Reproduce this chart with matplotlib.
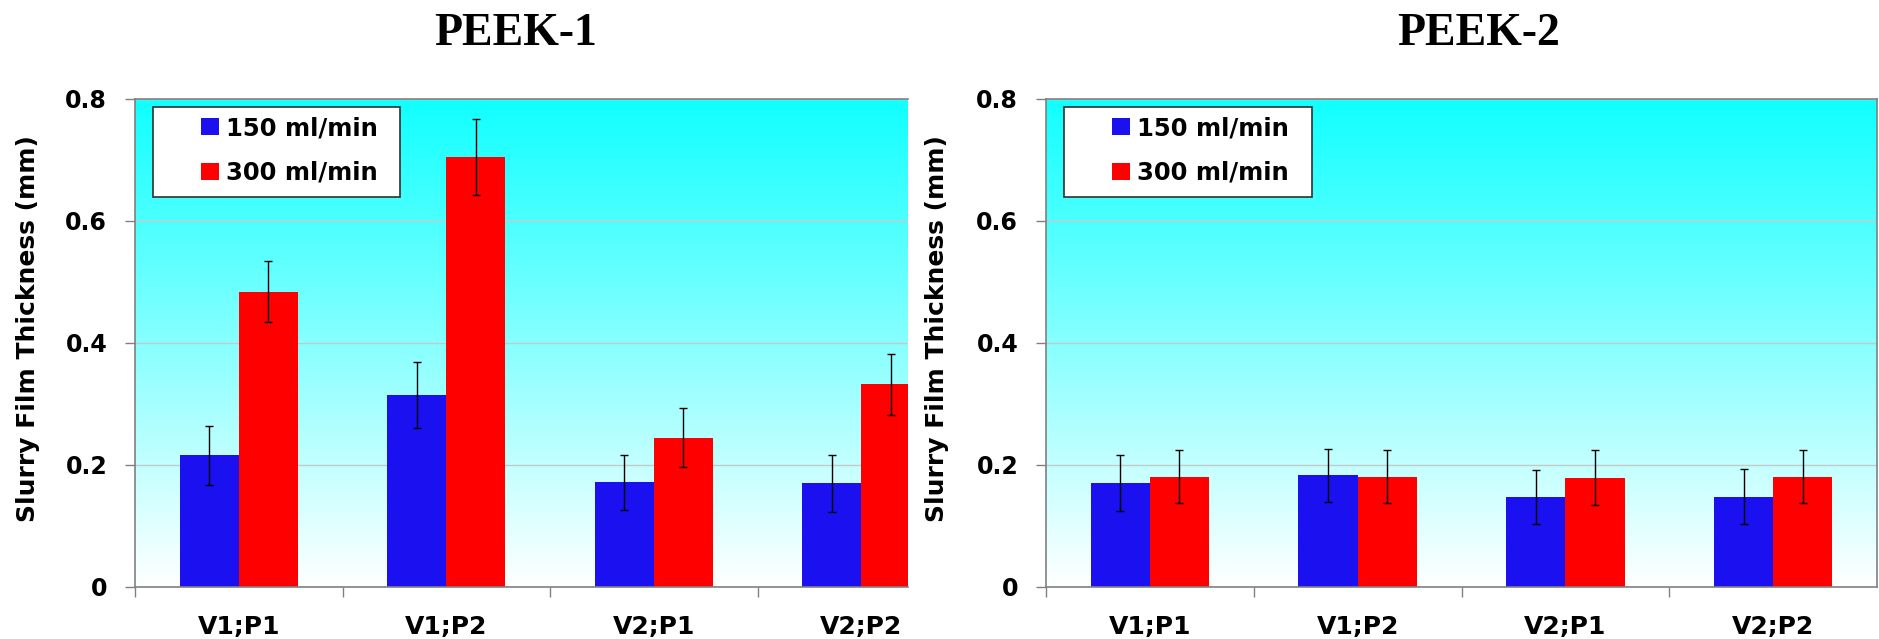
import numpy as np
import matplotlib
matplotlib.use("Agg")
import matplotlib.pyplot as plt
from matplotlib.patches import Patch, Rectangle
from matplotlib.colors import LinearSegmentedColormap

categories = ['V1;P1', 'V1;P2', 'V2;P1', 'V2;P2']
series_labels = ['150 ml/min', '300 ml/min']

peek1_150 = [0.216, 0.315, 0.172, 0.170]
peek1_150_err = [0.048, 0.054, 0.045, 0.047]
peek1_300 = [0.484, 0.705, 0.245, 0.332]
peek1_300_err = [0.050, 0.062, 0.048, 0.050]

peek2_150 = [0.170, 0.183, 0.148, 0.148]
peek2_150_err = [0.046, 0.043, 0.044, 0.045]
peek2_300 = [0.181, 0.181, 0.179, 0.181]
peek2_300_err = [0.043, 0.043, 0.045, 0.044]

y_ticks = [0, 0.2, 0.4, 0.6, 0.8]
y_tick_labels = ['0', '0.2', '0.4', '0.6', '0.8']

W, H = 1879, 639
BLUE = '#1a10f0'
RED = '#ff0000'
GRAY = '#808080'


def px_rect(x0, y0, x1, y1):
    # pixel box (top-left origin) -> figure fraction [l, b, w, h]
    return [x0 / W, 1 - y1 / H, (x1 - x0) / W, (y1 - y0) / H]


fig = plt.figure(figsize=(W / 100, H / 100), dpi=100)
fig.patch.set_facecolor('white')

bg_cmap = LinearSegmentedColormap.from_list('bg', ['#ffffff', '#10ffff'])
gradient = np.linspace(0, 1, 256).reshape(-1, 1)


def draw_panel(rect, xmax, vals150, err150, vals300, err300, title, title_x,
               ylabel_x, legend_box, show_right):
    ax = fig.add_axes(px_rect(*rect))
    ax.imshow(gradient, extent=[0, 1, 0, 1], transform=ax.transAxes,
              cmap=bg_cmap, aspect='auto', origin='lower', zorder=0)

    x = np.arange(len(categories))
    w = 0.285
    ekw = dict(elinewidth=1, capthick=1, ecolor='black')
    ax.bar(x - w / 2, vals150, w, color=BLUE, yerr=err150, capsize=3,
           error_kw=ekw, zorder=2)
    ax.bar(x + w / 2, vals300, w, color=RED, yerr=err300, capsize=3,
           error_kw=ekw, zorder=2)

    ax.set_xlim(-0.5, xmax)
    ax.set_ylim(0, 0.8)

    ax.set_yticks(y_ticks)
    ax.set_yticklabels(y_tick_labels, fontsize=17, fontweight='bold')
    ax.set_xticks(x)
    ax.set_xticklabels(categories, fontsize=18, fontweight='bold')
    ax.set_xticks(np.arange(len(categories)) - 0.5, minor=True)
    ax.tick_params(axis='x', which='major', length=0, pad=20)
    ax.tick_params(axis='x', which='minor', direction='out', length=7,
                   width=1, color=GRAY)
    ax.tick_params(axis='y', direction='out', length=7, width=1,
                   color=GRAY, pad=13)

    ax.set_axisbelow(True)
    ax.yaxis.grid(True, color='#c8c8c8', linewidth=1)

    for side in ['left', 'bottom', 'top']:
        ax.spines[side].set_color(GRAY)
        ax.spines[side].set_linewidth(1.2)
    ax.spines['right'].set_visible(show_right)
    ax.spines['right'].set_color(GRAY)
    ax.spines['right'].set_linewidth(1.2)

    ax.set_ylabel('Slurry Film Thickness (mm)', fontsize=18,
                  fontweight='bold', va='center')
    ax.yaxis.set_label_coords(ylabel_x, 0.53)

    # legend frame + entries
    bx0, by0, bx1, by1 = legend_box
    ax.add_patch(Rectangle((bx0 / W, 1 - by1 / H), (bx1 - bx0) / W,
                           (by1 - by0) / H, transform=fig.transFigure,
                           facecolor='white', edgecolor='#303030',
                           linewidth=1.2, zorder=4))
    handles = [Patch(facecolor=BLUE), Patch(facecolor=RED)]
    leg = ax.legend(handles, series_labels, loc='upper left',
                    bbox_to_anchor=((bx0 + 36) / W, 1 - (by0 - 3) / H),
                    bbox_transform=fig.transFigure, frameon=False,
                    borderpad=0, handlelength=0.72, handleheight=0.72,
                    handletextpad=0.3, labelspacing=0.85,
                    prop=dict(weight='bold', size=17.5))
    leg.set_zorder(5)

    fig.text(title_x / W, 1 - 45 / H, title, ha='center', va='baseline',
             fontsize=33, fontweight='bold', family='Liberation Serif')
    return ax


# left panel is cut off at the right edge, like the source image
draw_panel((135, 99, 908, 587), -0.5 + 773 / 207.5,
           peek1_150, peek1_150_err, peek1_300, peek1_300_err,
           'PEEK-1', 516, (28 - 135) / 773, (153, 107, 400, 197), False)
draw_panel((1046, 99, 1877, 587), 3.5,
           peek2_150, peek2_150_err, peek2_300, peek2_300_err,
           'PEEK-2', 1479, (937 - 1046) / 831, (1064, 107, 1312, 197), True)

fig.savefig('out.png', dpi=100)
